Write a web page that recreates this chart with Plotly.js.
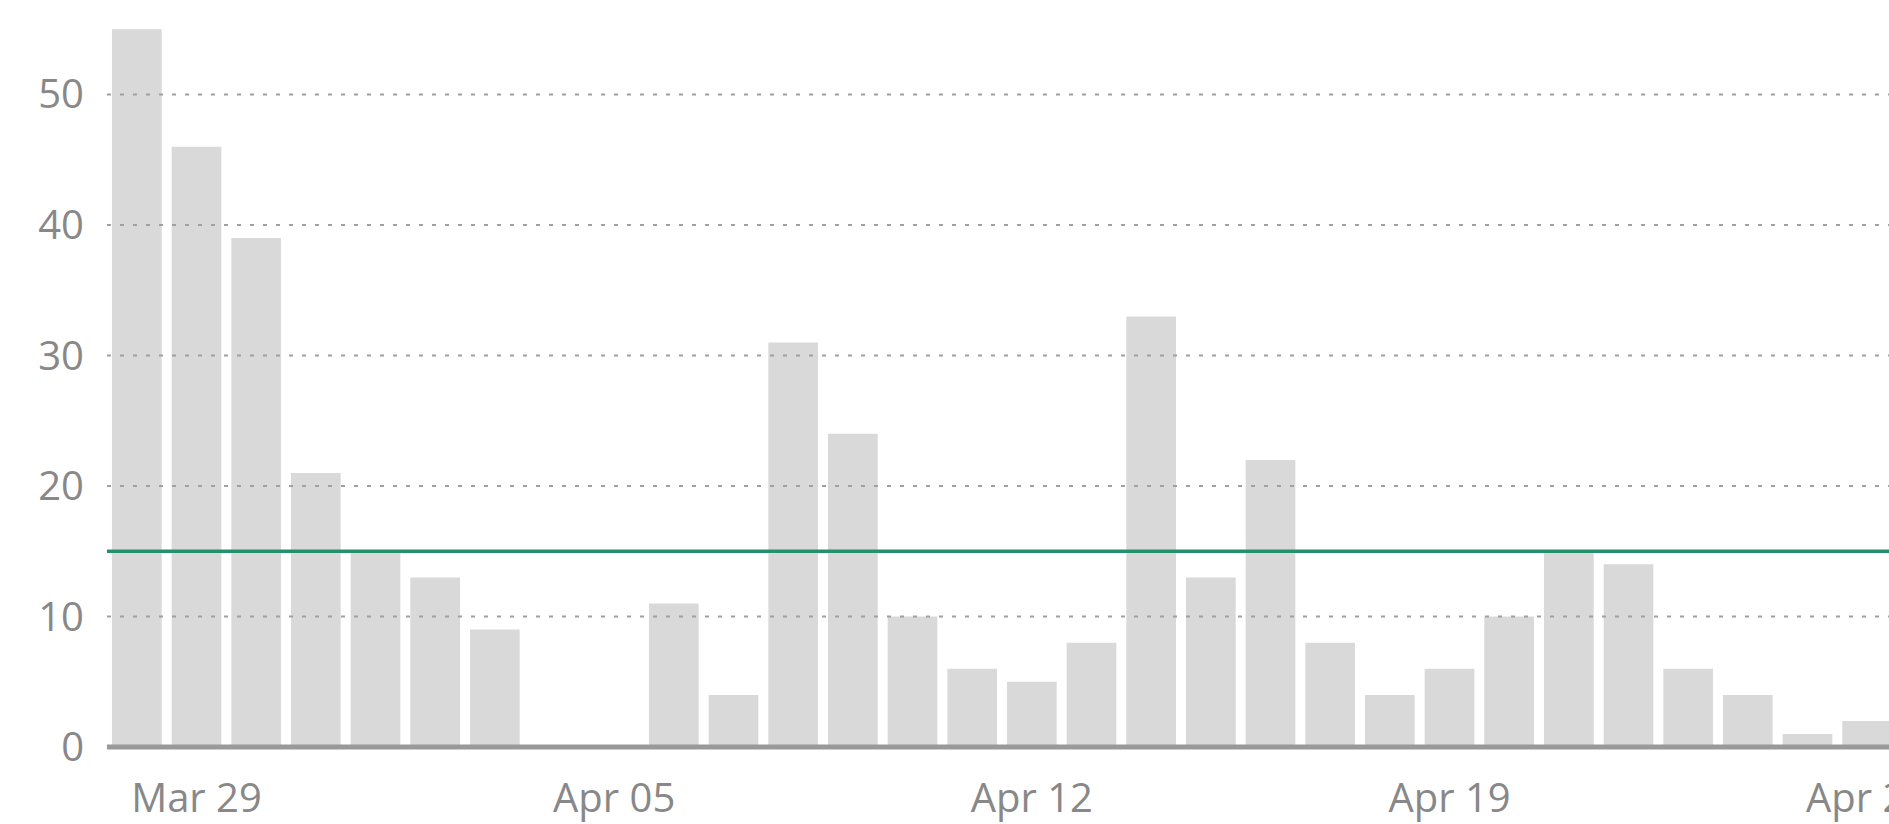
<!DOCTYPE html>
<html>
<head>
<meta charset="utf-8">
<script src="https://cdn.plot.ly/plotly-3.0.1.min.js"></script>
<style>
html,body{margin:0;padding:0;overflow:hidden;background:#fff;}
#chart{width:1960px;height:824px;}
</style>
</head>
<body>
<div id="chart"></div>
<script>
const dates = ["2020-03-28","2020-03-29","2020-03-30","2020-03-31","2020-04-01","2020-04-02","2020-04-03","2020-04-04","2020-04-05","2020-04-06","2020-04-07","2020-04-08","2020-04-09","2020-04-10","2020-04-11","2020-04-12","2020-04-13","2020-04-14","2020-04-15","2020-04-16","2020-04-17","2020-04-18","2020-04-19","2020-04-20","2020-04-21","2020-04-22","2020-04-23","2020-04-24","2020-04-25","2020-04-26"];
const counts = [55,46,39,21,15,13,9,0,0,11,4,31,24,10,6,5,8,33,13,22,8,4,6,10,15,14,6,4,1,2];
const threshold = 15;
const yTicks = [0,10,20,30,40,50];
const xTicks = ["2020-03-29","2020-04-05","2020-04-12","2020-04-19","2020-04-26"];
const xTickLabels = ["Mar 29","Apr 05","Apr 12","Apr 19","Apr 26"];

const textColor = "#888888";
const shapes = [];
yTicks.filter(v => v > 0).forEach(v => {
  shapes.push({type:"line", xref:"paper", x0:0, x1:1, yref:"y", y0:v, y1:v, layer:"above",
    line:{color:"#a0a0a0", width:2, dash:"4px,9px"}});
});
shapes.push({type:"line", xref:"paper", x0:0, x1:1, yref:"y", y0:threshold, y1:threshold, layer:"above",
  line:{color:"#26906e", width:3.5}});
shapes.push({type:"line", xref:"paper", x0:0, x1:1, yref:"y", y0:0, y1:0, layer:"above",
  line:{color:"#999999", width:5}});

const data = [{
  type:"bar", x:dates, y:counts,
  marker:{color:"#d9d9d9", line:{width:0}},
  hoverinfo:"x+y"
}];

const layout = {
  width:1960, height:824,
  margin:{l:107, r:63, t:0, b:73},
  paper_bgcolor:"#ffffff", plot_bgcolor:"#ffffff",
  bargap:0.167,
  showlegend:false,
  font:{family:"Open Sans, sans-serif", color:textColor, size:40},
  xaxis:{
    type:"date",
    range:["2020-03-27 12:00","2020-04-26 12:00"],
    tickvals:xTicks, ticktext:xTickLabels,
    showgrid:false, zeroline:false, showline:false, ticks:"",
    ticklabelstandoff:20,
    ticklabeloverflow:"allow",
    tickfont:{size:40, color:textColor}
  },
  yaxis:{
    range:[-0.3,57.24],
    tickvals:yTicks,
    showgrid:false, zeroline:false, showline:false, ticks:"",
    ticklabelstandoff:22,
    tickfont:{size:40, color:textColor}
  },
  shapes:shapes
};

Plotly.newPlot("chart", data, layout, {displayModeBar:false, staticPlot:true});
</script>
</body>
</html>
